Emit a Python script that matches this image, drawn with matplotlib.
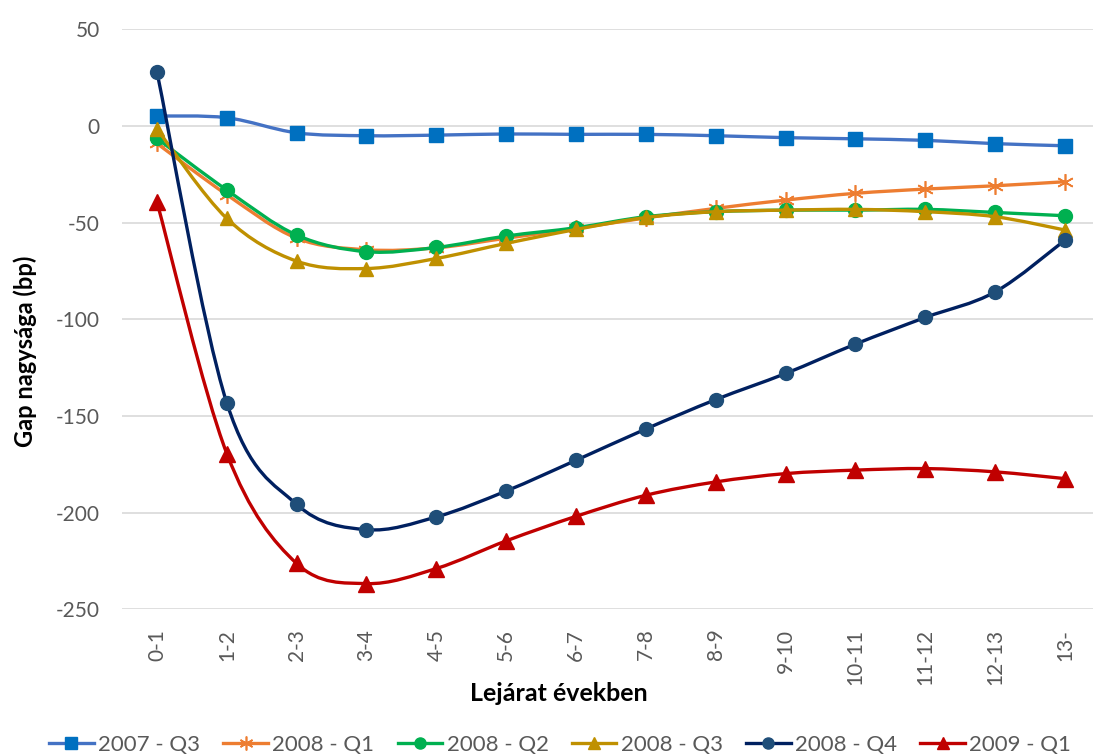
import matplotlib.pyplot as plt
import numpy as np
from matplotlib.path import Path
from matplotlib.patches import PathPatch
from matplotlib.lines import Line2D

plt.rcParams['font.family'] = ['Lato', 'DejaVu Sans']
plt.rcParams['axes.unicode_minus'] = False

# lejárati sávok
categories = ['0-1', '1-2', '2-3', '3-4', '4-5', '5-6', '6-7', '7-8',
              '8-9', '9-10', '10-11', '11-12', '12-13', '13-']

q3_2007 = [5.2, 4.3, -3.5, -5.0, -4.7, -4.1, -4.3, -4.3, -5.0, -6.0, -6.6, -7.4, -9.1, -10.2]
q1_2008 = [-9.0, -35.5, -58.0, -64.0, -63.0, -58.0, -53.0, -47.5, -42.6, -38.3, -34.8, -32.6, -30.9, -28.8]
q2_2008 = [-6.4, -33.1, -56.4, -65.0, -62.8, -56.9, -52.6, -46.9, -44.3, -43.5, -43.5, -43.1, -44.7, -46.4]
q3_2008 = [-1.5, -47.8, -69.9, -73.7, -68.5, -60.7, -53.5, -47.3, -44.3, -43.5, -43.1, -44.3, -46.9, -53.8]
q4_2008 = [28.1, -143.2, -195.7, -208.8, -202.2, -188.8, -172.9, -156.7, -141.5, -128.0, -112.8, -99.0, -85.8, -59.0]
q1_2009 = [-39.2, -169.4, -226.3, -236.7, -228.9, -214.6, -201.9, -191.0, -184.1, -179.8, -178.0, -177.2, -178.9, -182.4]

series = [
    ('2007 - Q3', q3_2007, '#4472C4', '#0070C0', 's', 10),
    ('2008 - Q1', q1_2008, '#ED7D31', '#ED7D31', (6, 2, 0), 12),
    ('2008 - Q2', q2_2008, '#00B050', '#00B050', 'o', 10),
    ('2008 - Q3', q3_2008, '#BF9000', '#BF9000', '^', 10),
    ('2008 - Q4', q4_2008, '#002060', '#1F4E79', 'o', 10),
    ('2009 - Q1', q1_2009, '#C00000', '#C00000', '^', 11),
]


def smooth_path(x, y):
    # bezier through the points, like a smoothed line in a spreadsheet
    pts = np.column_stack([x, y]).astype(float)
    n = len(pts)
    verts = [pts[0]]
    codes = [Path.MOVETO]
    for i in range(n - 1):
        p0 = pts[i - 1] if i > 0 else pts[i]
        p1 = pts[i]
        p2 = pts[i + 1]
        p3 = pts[i + 2] if i + 2 < n else pts[i + 1]
        c1 = p1 + (p2 - p0) / 6.0
        c2 = p2 - (p3 - p1) / 6.0
        verts += [c1, c2, p2]
        codes += [Path.CURVE4] * 3
    return Path(verts, codes)


fig = plt.figure(figsize=(10.93, 7.56), dpi=100)
ax = fig.add_axes([122 / 1093, 1 - 609.3 / 756, (1093 - 122) / 1093, (609.3 - 29.4) / 756])

x = np.arange(len(categories))
handles = []
for z, (name, vals, lcol, mcol, mk, ms) in enumerate(series):
    patch = PathPatch(smooth_path(x, vals), facecolor='none', edgecolor=lcol,
                      lw=2.4, zorder=3 + z, capstyle='round')
    ax.add_patch(patch)
    if mk == (6, 2, 0):
        ax.plot(x, vals, linestyle='none', marker=mk, ms=ms, mec=mcol, mew=1.2,
                zorder=3 + z)
        h = Line2D([], [], color=lcol, lw=2.4, marker=mk, ms=ms - 2, mec=mcol, mew=1.2)
    else:
        ax.plot(x, vals, linestyle='none', marker=mk, ms=ms, mfc=mcol, mec=mcol,
                zorder=3 + z)
        h = Line2D([], [], color=lcol, lw=2.4, marker=mk, ms=ms - 2, mfc=mcol, mec=mcol)
    handles.append(h)

ax.set_xlim(-0.5, 13.4)
ax.set_ylim(-250, 50)
ax.set_yticks(np.arange(-250, 51, 50))
ax.set_xticks(x)
ax.set_xticklabels(categories, rotation=90)
ax.grid(axis='y', color='#D9D9D9', lw=1.2)
ax.set_axisbelow(True)
for s in ax.spines.values():
    s.set_visible(False)
ax.tick_params(axis='both', length=0, colors='#595959', labelsize=15)
ax.tick_params(axis='y', pad=16)
ax.tick_params(axis='x', pad=14)

ax.set_ylabel('Gap nagysága (bp)', fontsize=17, fontweight='bold', color='black')
ax.yaxis.set_label_coords((37 - 122) / (1093 - 122), 0.445)
ax.set_xlabel('Lejárat években', fontsize=18, fontweight='bold', color='black')
ax.xaxis.set_label_coords((559 - 122) / (1093 - 122), -0.125)

fig.legend(handles, [s[0] for s in series], loc='center left',
           bbox_to_anchor=(0.045, 1 - 745 / 756), ncol=6, frameon=False,
           fontsize=16, handlelength=2.0, handletextpad=0.2, columnspacing=1.05,
           labelcolor='#595959', borderaxespad=0, borderpad=0)

fig.savefig('out.png', dpi=100)
